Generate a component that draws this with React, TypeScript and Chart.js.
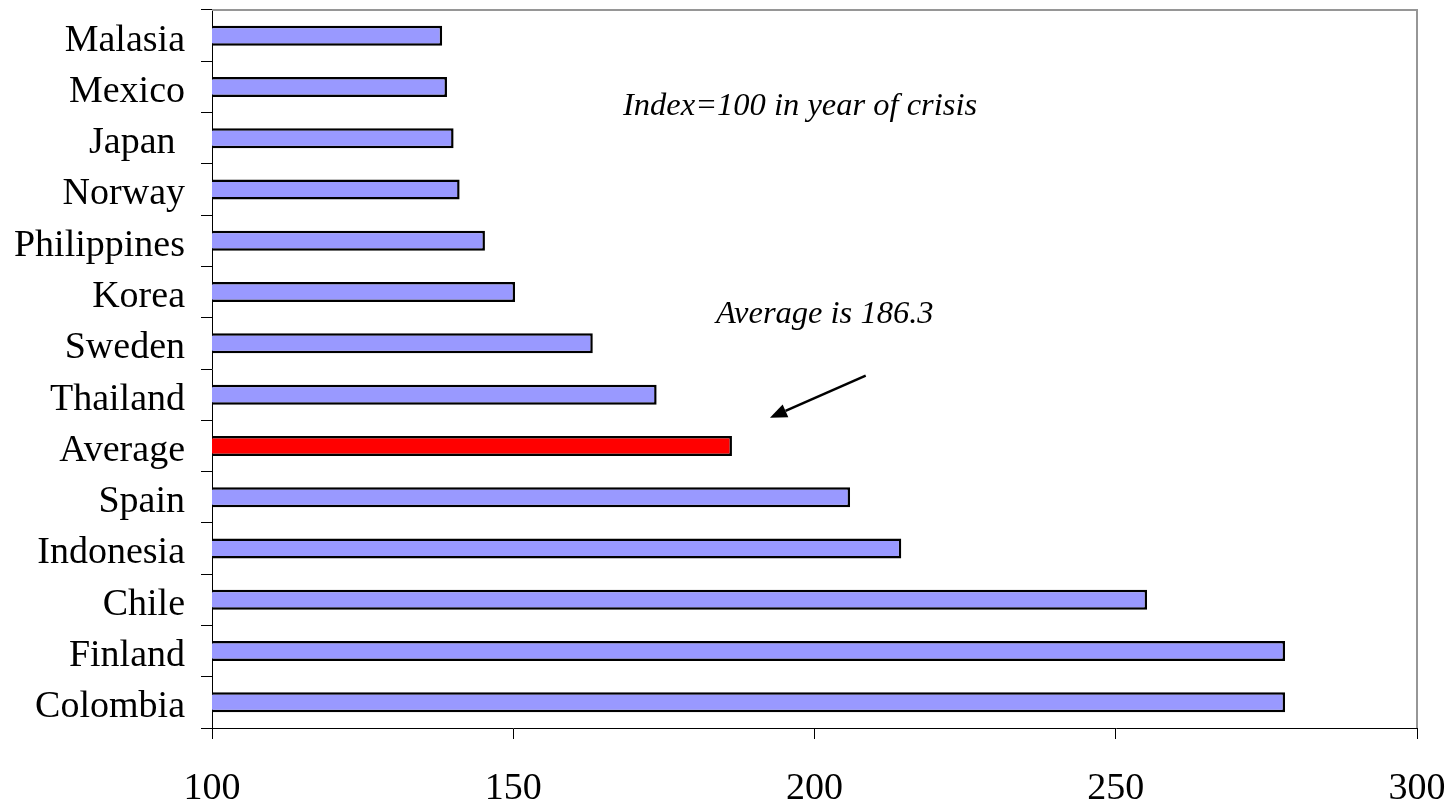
import React, { useEffect, useRef } from "react";
import { Chart, registerables } from "chart.js";

Chart.register(...registerables);

const categories = [
  "Malasia",
  "Mexico",
  "Japan ",
  "Norway",
  "Philippines",
  "Korea",
  "Sweden",
  "Thailand",
  "Average",
  "Spain",
  "Indonesia",
  "Chile",
  "Finland",
  "Colombia",
];

const values = [138.2, 139.0, 140.1, 141.1, 145.3, 150.3, 163.2, 173.8, 186.3, 205.9, 214.4, 255.2, 278.1, 278.1];

const barColors = categories.map((c) => (c === "Average" ? "#FF0000" : "#9999FF"));

const xTicks = [100, 150, 200, 250, 300];

const noteIndex = "Index=100 in year of crisis";
const noteAverage = "Average is 186.3";

const annotationPlugin = {
  id: "annotations",
  afterDraw(chart: any) {
    const { ctx, chartArea, scales } = chart;
    const x = scales.x;
    const y = scales.y;
    ctx.save();
    // top and right frame
    ctx.strokeStyle = "#969696";
    ctx.lineWidth = 2;
    ctx.beginPath();
    ctx.moveTo(chartArea.left, chartArea.top);
    ctx.lineTo(chartArea.right, chartArea.top);
    ctx.lineTo(chartArea.right, chartArea.bottom);
    ctx.stroke();

    ctx.fillStyle = "#000";
    ctx.font = "italic 32.5px 'Liberation Serif'";
    ctx.textAlign = "center";
    ctx.textBaseline = "middle";
    ctx.fillText(noteIndex, x.getPixelForValue(197.6), y.getPixelForValue(1.39));
    ctx.fillText(noteAverage, x.getPixelForValue(201.7), y.getPixelForValue(5.44));

    // arrow
    const x1 = x.getPixelForValue(208.5);
    const y1 = y.getPixelForValue(6.63);
    const x2 = x.getPixelForValue(192.6);
    const y2 = y.getPixelForValue(7.45);
    const ang = Math.atan2(y2 - y1, x2 - x1);
    const headLen = 17;
    const headW = 7;
    const bx = x2 - headLen * Math.cos(ang);
    const by = y2 - headLen * Math.sin(ang);
    ctx.strokeStyle = "#000";
    ctx.lineWidth = 2.5;
    ctx.beginPath();
    ctx.moveTo(x1, y1);
    ctx.lineTo(bx, by);
    ctx.stroke();
    ctx.beginPath();
    ctx.moveTo(x2, y2);
    ctx.lineTo(bx + headW * Math.sin(ang), by - headW * Math.cos(ang));
    ctx.lineTo(bx - headW * Math.sin(ang), by + headW * Math.cos(ang));
    ctx.closePath();
    ctx.fill();
    ctx.restore();
  },
};

export default function App() {
  const ref = useRef<HTMLCanvasElement | null>(null);
  useEffect(() => {
    document.body.style.margin = "0";
    const canvas = ref.current;
    if (!canvas) return;
    const chart = new Chart(canvas, {
      type: "bar",
      data: {
        labels: categories,
        datasets: [
          {
            data: values,
            backgroundColor: barColors,
            borderColor: "#000",
            borderWidth: 2.5,
            borderSkipped: false,
            barPercentage: 0.39,
            categoryPercentage: 1,
          },
        ],
      },
      options: {
        indexAxis: "y",
        animation: false,
        responsive: false,
        maintainAspectRatio: false,
        layout: { padding: { top: 10, right: 37, left: 0, bottom: 0 } },
        plugins: {
          legend: { display: false },
          tooltip: { enabled: false },
          title: { display: false },
        },
        scales: {
          x: {
            type: "linear",
            min: 100,
            max: 300,
            afterBuildTicks(scale: any) {
              scale.ticks = xTicks.map((v) => ({ value: v }));
            },
            afterFit(scale: any) {
              scale.height = 75;
              scale.paddingLeft = 0;
              scale.paddingRight = 0;
            },
            grid: {
              display: true,
              drawOnChartArea: false,
              drawTicks: true,
              tickLength: 11,
              color: "#000",
              lineWidth: 1,
            },
            border: { display: true, color: "#000", width: 1 },
            ticks: {
              color: "#000",
              font: { family: "'Liberation Serif'", size: 38 },
              padding: 27,
              maxRotation: 0,
            },
          },
          y: {
            type: "category",
            afterFit(scale: any) {
              scale.width = 212;
              scale.paddingTop = 0;
              scale.paddingBottom = 0;
            },
            grid: {
              display: true,
              drawOnChartArea: false,
              drawTicks: true,
              tickLength: 11,
              color: "#000",
              lineWidth: 1,
              offset: true,
            },
            border: { display: true, color: "#000", width: 1 },
            ticks: {
              color: "#000",
              font: { family: "'Liberation Serif'", size: 38 },
              padding: 16,
              labelOffset: 5,
              autoSkip: false,
            },
          },
        },
      },
      plugins: [annotationPlugin],
    });
    return () => chart.destroy();
  }, []);
  return (
    <div style={{ width: 1454, height: 803, position: "relative" }}>
      <canvas ref={ref} width={1454} height={803} style={{ display: "block", width: 1454, height: 803 }} />
    </div>
  );
}
